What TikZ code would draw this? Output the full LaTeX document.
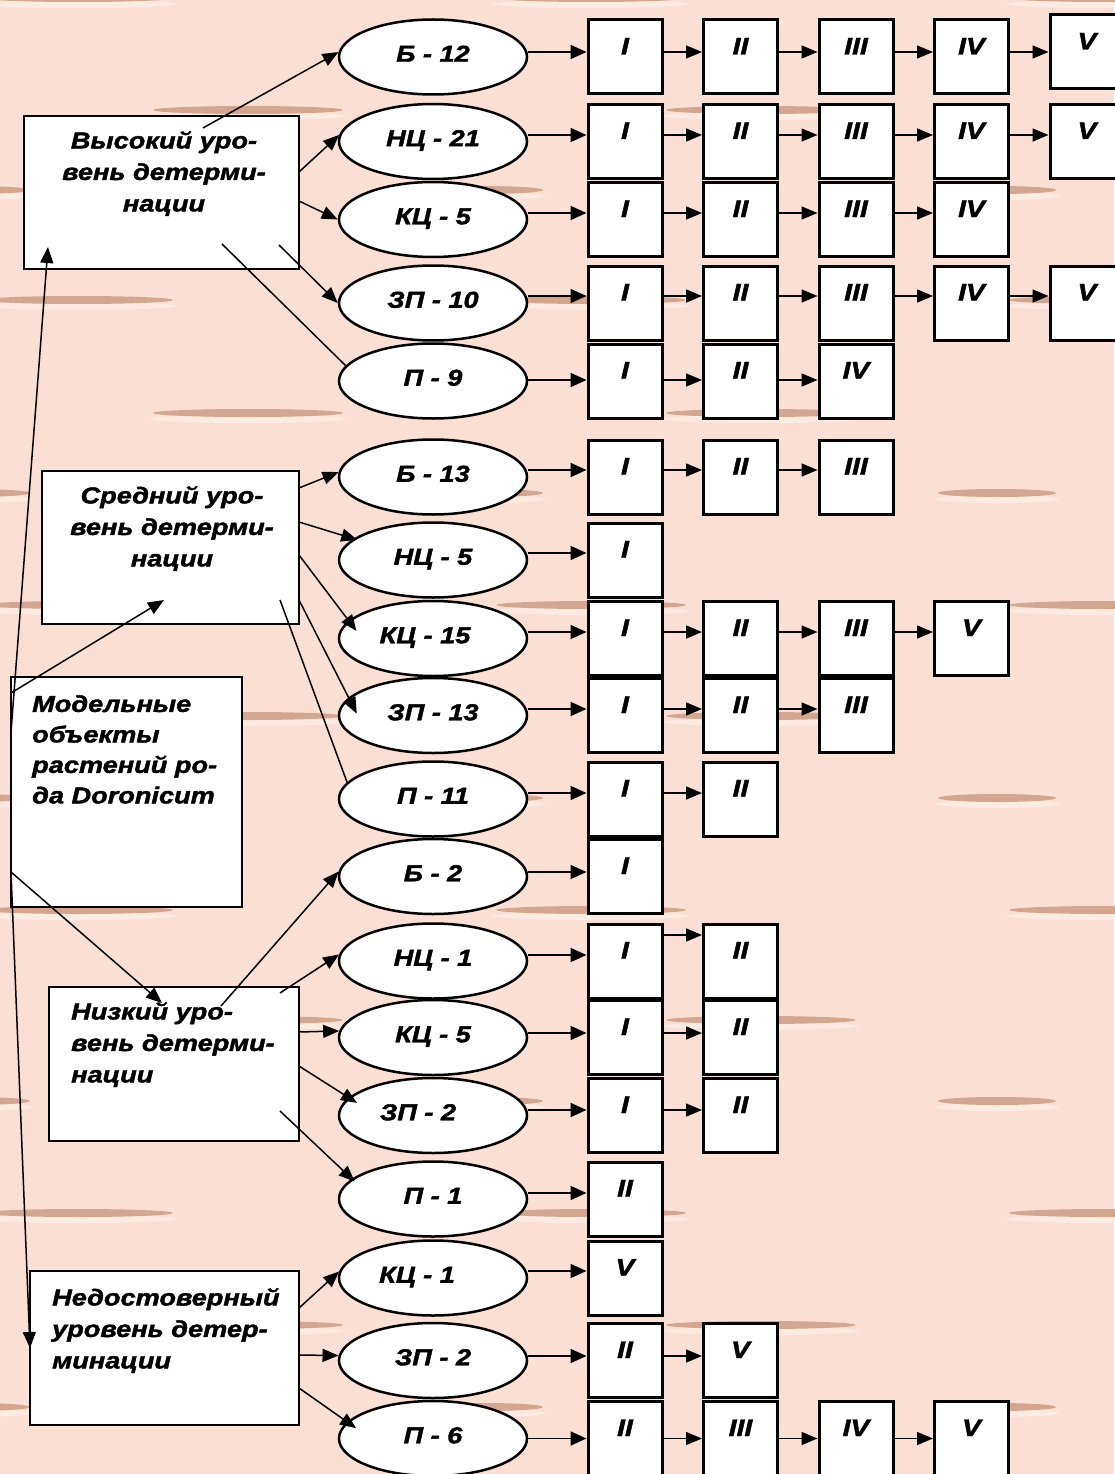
\documentclass[tikz,border=0pt]{standalone}
\usepackage{fontspec}
\setmainfont{Liberation Sans}[FakeStretch=1.18,BoldItalicFeatures={FakeBold=1.8}]
\usetikzlibrary{arrows.meta,shapes.geometric}
\definecolor{bgc}{RGB}{250,224,212}
\definecolor{strk}{RGB}{212,166,142}
\definecolor{halo}{RGB}{254,240,233}

\newcommand\boxrow[3]{%
  \foreach \cc/\lab in {#3} {%
    \pgfmathsetmacro\xx{625+(\cc-1)*115.5}%
    \node[rbox] (r#1-\cc) at (\xx,#2) {\lab};%
  }%
}
\newcommand\links[3]{%
  \draw[arr] ([yshift=#3pt]e#1.east) -- ([yshift=#3pt]r#1-1.west);%
  \ifnum#2>1
    \foreach \aa in {2,...,#2} {%
      \pgfmathtruncatemacro\pp{\aa-1}%
      \draw[link] ([yshift=#3pt]r#1-\pp.east) -- ([yshift=#3pt]r#1-\aa.west);%
    }%
  \fi
}

\begin{document}
\begin{tikzpicture}[x=1pt,y=-1pt,
  oval/.style={ellipse,draw,line width=2.5pt,fill=white,minimum width=188pt,minimum height=75pt,inner sep=0pt,text height=16.5pt,text depth=7pt,font=\fontsize{23}{28}\selectfont\bfseries\itshape},
  rbox/.style={rectangle,draw,line width=3pt,fill=white,minimum width=74pt,minimum height=74pt,inner sep=0pt,text height=17pt,text depth=22pt,font=\fontsize{24}{28}\selectfont\bfseries\itshape},
  lbox/.style={rectangle,draw,line width=2.5pt,fill=white,inner sep=0pt,outer sep=0pt,anchor=north west},
  ltext/.style={inner sep=0pt,font=\fontsize{23}{31.5}\selectfont\bfseries\itshape},
  arr/.style={line width=1.8pt,-{Triangle[length=16pt,width=14pt]}},
  link/.style={line width=1.5pt,-{Triangle[length=16pt,width=13pt]}},
  plain/.style={line width=1.5pt}
]
% background
\fill[bgc] (0,0) rectangle (1114,1474);
\useasboundingbox (0,0) rectangle (1114,1474);
% texture streaks
\foreach \yy in {110,413,716,1020,1325}
  \foreach \xx in {248,761} {
    \fill[halo,opacity=0.7] (\xx,\yy+6) ellipse [x radius=98pt,y radius=4pt];
    \fill[strk] (\xx,\yy) ellipse [x radius=95pt,y radius=4pt];
  }
\foreach \yy in {190,493,798,1101,1407}
  \foreach \xx in {-29,484,997} {
    \fill[halo,opacity=0.7] (\xx,\yy+6) ellipse [x radius=62pt,y radius=4pt];
    \fill[strk] (\xx,\yy) ellipse [x radius=59pt,y radius=4pt];
  }
\foreach \yy in {-2,300,605,910,1213}
  \foreach \xx in {78,591,1104} {
    \fill[halo,opacity=0.7] (\xx,\yy+6) ellipse [x radius=98pt,y radius=4pt];
    \fill[strk] (\xx,\yy) ellipse [x radius=95pt,y radius=4pt];
  }

% left boxes
\node[lbox,minimum width=275pt,minimum height=153pt] (vys) at (24,116) {};
\node[lbox,minimum width=257pt,minimum height=153pt] (sre) at (42,471) {};
\node[lbox,minimum width=231pt,minimum height=230pt] (mod) at (11,677) {};
\node[lbox,minimum width=250pt,minimum height=154pt] (niz) at (49,987) {};
\node[lbox,minimum width=269pt,minimum height=154pt] (ned) at (30,1271) {};

\node[ltext,align=center,anchor=north] (vyst) at (164,131) {Высокий уро-\\вень детерми-\\нации};
\node[ltext,align=center,anchor=north] (sret) at (172,486) {Средний уро-\\вень детерми-\\нации};
\node[ltext,align=left,anchor=north west,font=\fontsize{23}{30.5}\selectfont\bfseries\itshape] (modt) at (32,695) {Модельные\\объекты\\растений ро-\\да Doronicum};
\node[ltext,align=left,anchor=north west] (nizt) at (71,1002) {Низкий уро-\\вень детерми-\\нации};
\node[ltext,align=left,anchor=north west] (nedt) at (52,1288) {Недостоверный\\уровень детер-\\минации};

% ovals
\node[oval] (e1) at (433,57) {Б - 12};
\node[oval] (e2) at (433,141.5) {НЦ - 21};
\node[oval] (e3) at (433,219.5) {КЦ - 5};
\node[oval] (e4) at (433,303) {ЗП - 10};
\node[oval] (e5) at (433,381) {П - 9};
\node[oval] (e6) at (433,477) {Б - 13};
\node[oval] (e7) at (433,560) {НЦ - 5};
\node[oval] (e8) at (433,638.5) {КЦ - 15\hspace*{16pt}};
\node[oval] (e9) at (433,715.5) {ЗП - 13};
\node[oval] (e10) at (433,799) {П - 11};
\node[oval] (e11) at (433,876.5) {Б - 2};
\node[oval] (e12) at (433,961) {НЦ - 1};
\node[oval] (e13) at (433,1037.5) {КЦ - 5};
\node[oval] (e14) at (433,1115.5) {ЗП - 2\hspace*{30pt}};
\node[oval] (e15) at (433,1199) {П - 1};
\node[oval] (e16) at (433,1278) {КЦ - 1\hspace*{32pt}};
\node[oval] (e17) at (433,1360.5) {ЗП - 2};
\node[oval] (e18) at (433,1438.5) {П - 6};

% stage boxes
\boxrow{1}{57}{1/I,2/II,3/III,4/IV}
\node[rbox] (r1-5) at (1087,52) {V};
\boxrow{2}{141.5}{1/I,2/II,3/III,4/IV,5/V}
\boxrow{3}{219.5}{1/I,2/II,3/III,4/IV}
\boxrow{4}{303}{1/I,2/II,3/III,4/IV,5/V}
\boxrow{5}{381}{1/I,2/II,3/IV}
\boxrow{6}{477}{1/I,2/II,3/III}
\boxrow{7}{560}{1/I}
\boxrow{8}{638.5}{1/I,2/II,3/III,4/V}
\boxrow{9}{715.5}{1/I,2/II,3/III}
\boxrow{10}{799}{1/I,2/II}
\boxrow{11}{876.5}{1/I}
\boxrow{12}{961}{1/I,2/II}
\boxrow{13}{1037.5}{1/I,2/II}
\boxrow{14}{1115.5}{1/I,2/II}
\boxrow{15}{1199}{1/II}
\boxrow{16}{1278}{1/V}
\boxrow{17}{1360.5}{1/II,2/V}
\boxrow{18}{1438.5}{1/II,2/III,3/IV,4/V}

% chains
\links{1}{4}{5}
\draw[link] ([yshift=5pt]r1-4.east) -- (r1-5.west);
\links{2}{5}{6.5}
\links{3}{4}{6.5}
\links{4}{5}{7}
\links{5}{3}{1}
\links{6}{3}{7}
\links{7}{1}{7}
\links{8}{4}{6.5}
\links{9}{3}{6.5}
\links{10}{2}{6}
\links{11}{1}{4.5}
\links{12}{1}{6}
\draw[link] ([yshift=26pt]r12-1.east) -- ([yshift=26pt]r12-2.west);
\links{13}{2}{4.5}
\links{14}{2}{5.5}
\links{15}{1}{6}
\links{16}{1}{7}
\links{17}{2}{4.5}
\links{18}{4}{0}

% Высокий
\coordinate (v1) at (203,128);
\coordinate (v2) at (299,172);
\coordinate (v3) at (299,201);
\coordinate (v4) at (279,245);
\coordinate (v5) at (222,244);
\draw[link] (v1) -- (e1.177);
\draw[link] (v2) -- (e2.176);
\draw[link] (v3) -- (e3.west);
\draw[link] (v4) -- (e4.west);
\draw[plain] (v5) -- (e5.170);
% Средний
\coordinate (s1) at (299,488);
\coordinate (s2) at (299,522);
\coordinate (s3) at (299,555);
\coordinate (s4) at (299,600);
\coordinate (s5) at (280,600);
\draw[link] (s1) -- (e6.177);
\draw[link,shorten >=-4pt] (s2) -- (e7.165);
\draw[link,shorten >=-13pt] (s3) -- (e8.168);
\draw[link,shorten >=-18pt] (s4) -- (e9.168);
\draw[plain] (s5) -- (e10.169);
% Низкий
\coordinate (n1) at (221,1006);
\coordinate (n2) at (280,993);
\coordinate (n3) at (299,1032);
\coordinate (n4) at (299,1066);
\coordinate (n5) at (280,1111);
\draw[link] (n1) -- (e11.177);
\draw[link] (n2) -- (e12.176);
\draw[link] (n3) -- (e13.176);
\draw[link,shorten >=-10pt] (n4) -- (e14.168);
\draw[link,shorten >=-4pt] (n5) -- (e15.166);
% Недостоверный
\coordinate (d1) at (299,1308);
\coordinate (d2) at (299,1355);
\coordinate (d3) at (299,1388);
\draw[link] (d1) -- (e16.176);
\draw[link] (d2) -- (e17.177);
\draw[link,shorten >=-11pt] (d3) -- (e18.169);
% Модельные объекты
\coordinate (m1) at (11,732);
\coordinate (m2) at (11,693);
\coordinate (m3) at (11,872);
\coordinate (tv) at (48,247);
\coordinate (ts) at (164,600);
\coordinate (tn) at (162,1003);
\coordinate (td) at (30,1348);
\draw[link] (m1) -- (tv);
\draw[link] (m2) -- (ts);
\draw[link] (m3) -- (tn);
\draw[link] (m3) -- (td);
\end{tikzpicture}
\end{document}
